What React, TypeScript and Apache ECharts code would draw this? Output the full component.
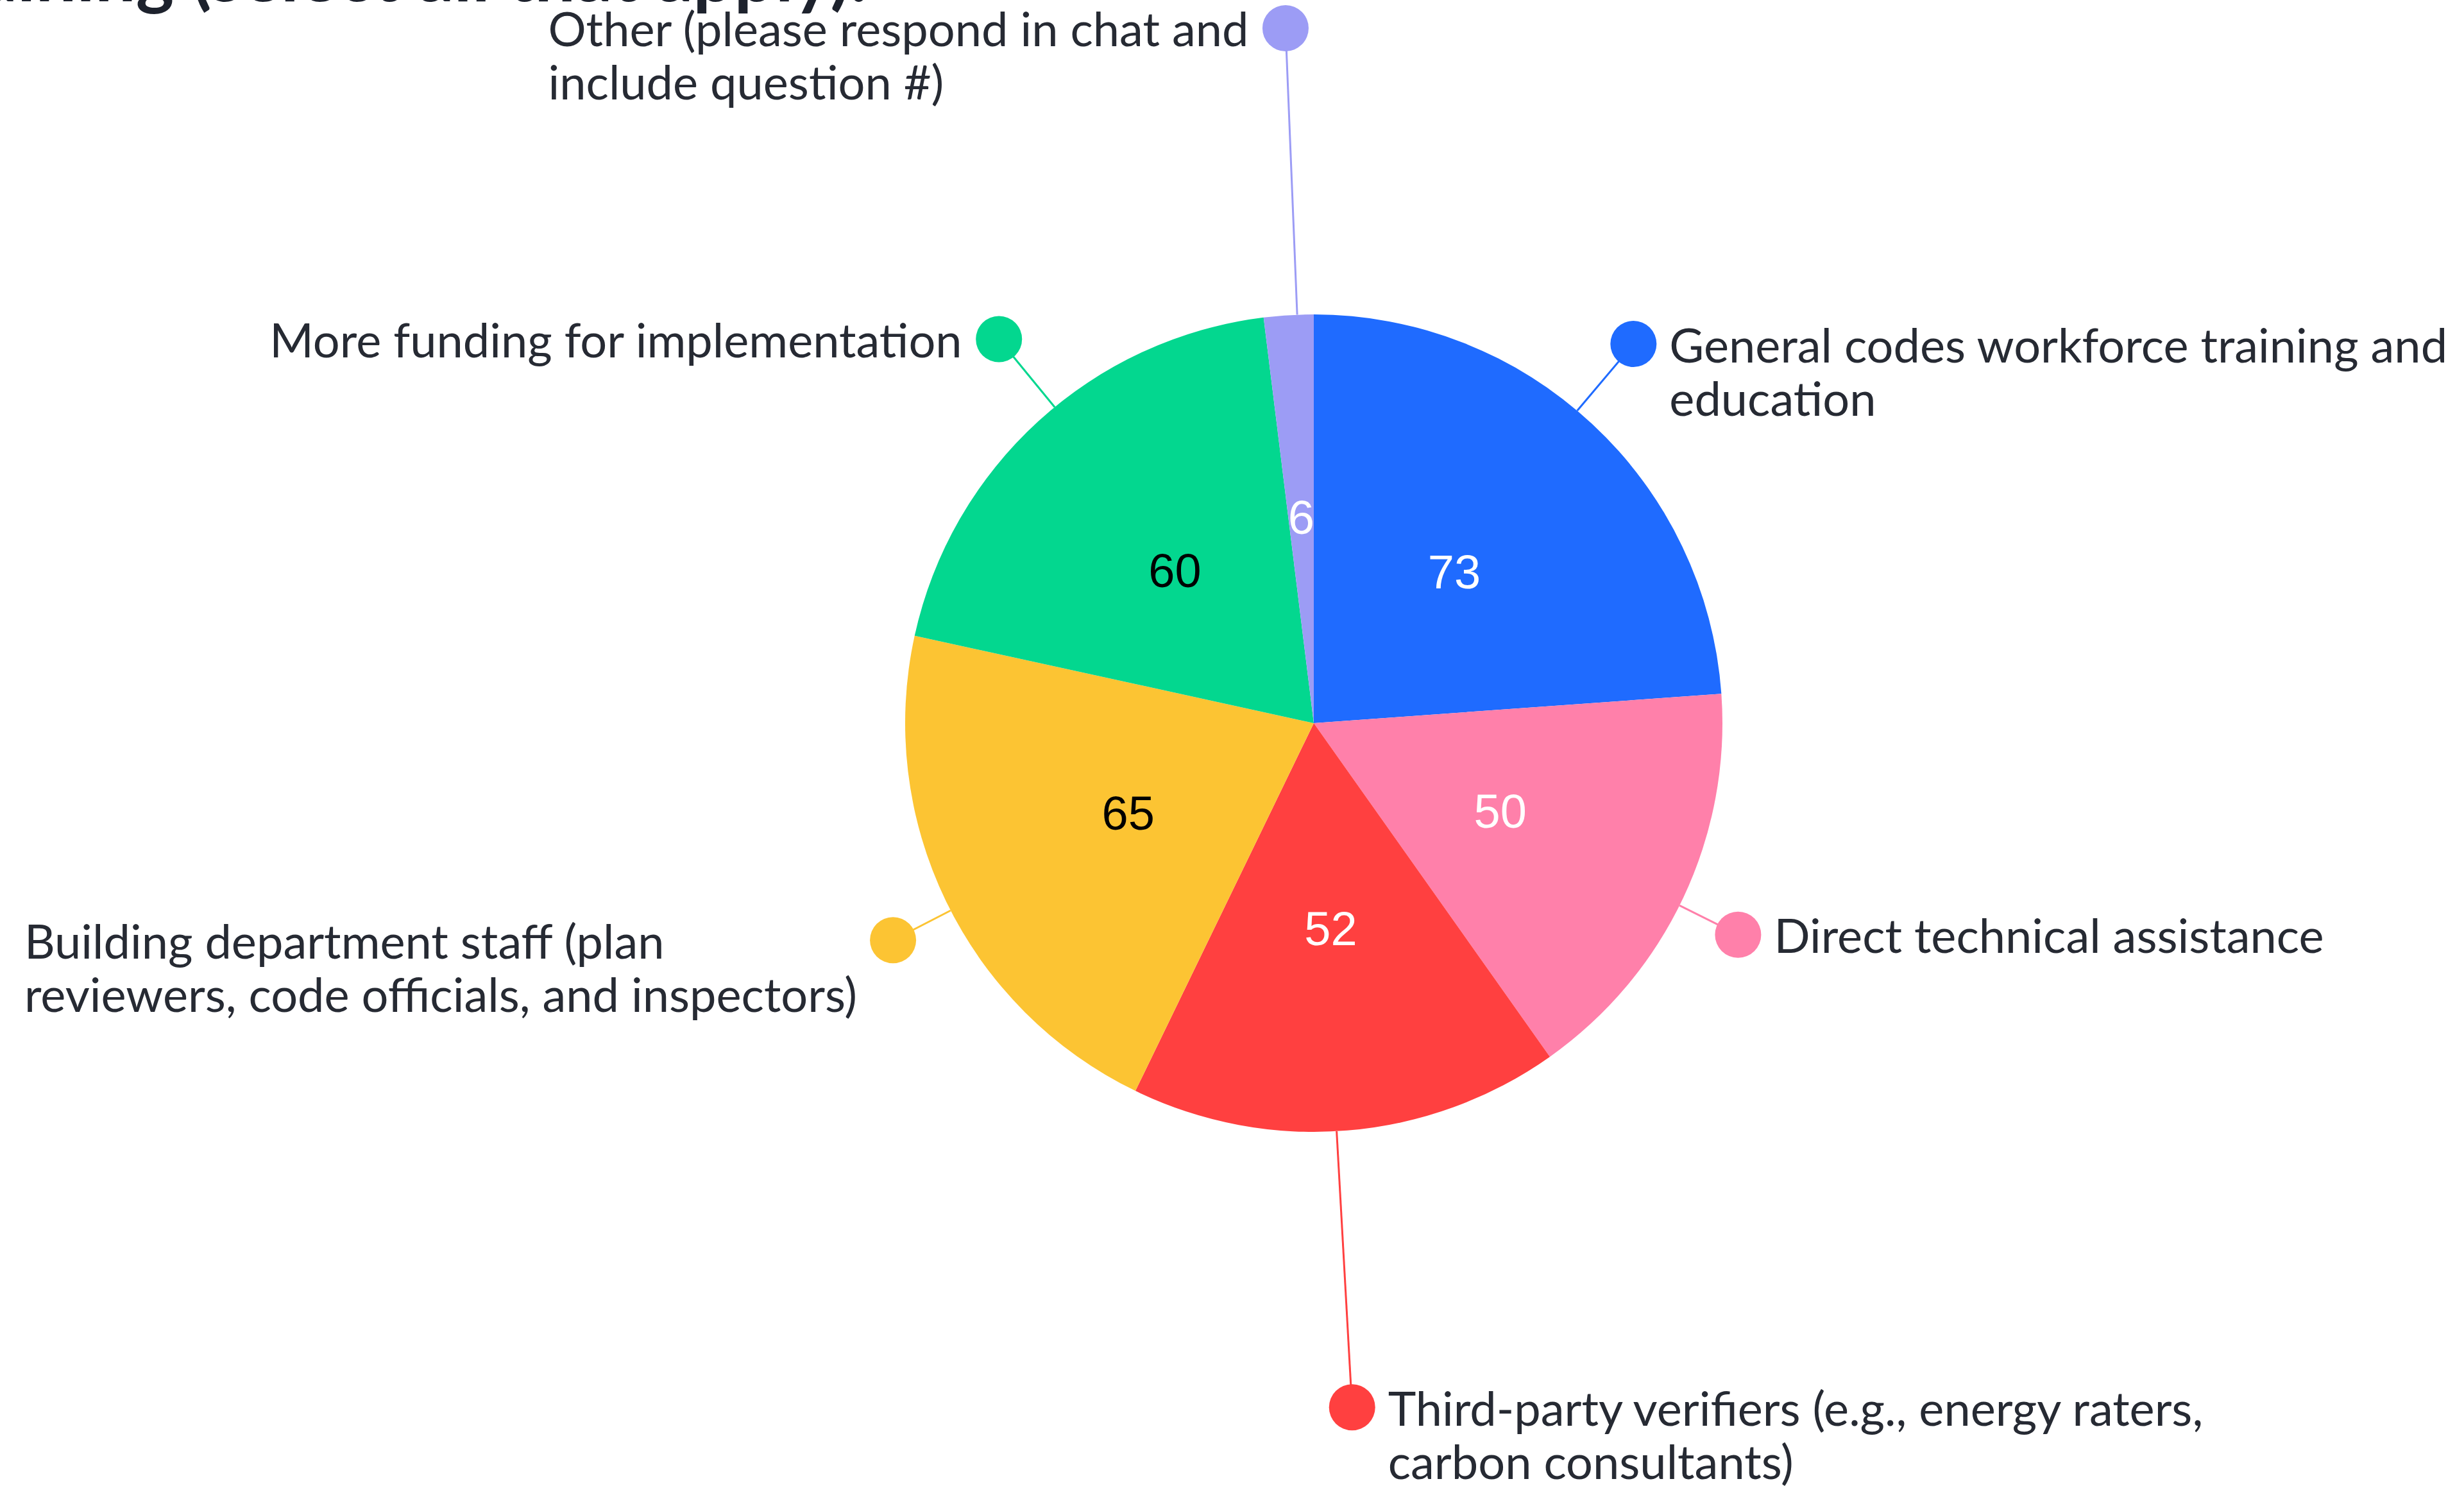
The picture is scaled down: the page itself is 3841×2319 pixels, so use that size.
import React, { useEffect, useRef } from 'react';
import * as echarts from 'echarts';

// ---- data ----
const titleText = 'training (select all that apply).';
const categories = [
  'General codes workforce training and education',
  'Direct technical assistance',
  'Third-party verifiers (e.g., energy raters, carbon consultants)',
  'Building department staff (plan reviewers, code officials, and inspectors)',
  'More funding for implementation',
  'Other (please respond in chat and include question #)',
];
const categoryLines = [
  ['General codes workforce training and', 'education'],
  ['Direct technical assistance'],
  ['Third-party verifiers (e.g., energy raters,', 'carbon consultants)'],
  ['Building department staff (plan', 'reviewers, code officials, and inspectors)'],
  ['More funding for implementation'],
  ['Other (please respond in chat and', 'include question #)'],
];
const values = [73, 50, 52, 65, 60, 6];

// ---- styles ----
const sliceColors = ['#1F6BFF', '#FF80AA', '#FF4040', '#FCC433', '#03D78F', '#9C9CF5'];
const valueColors = ['#ffffff', '#ffffff', '#ffffff', '#000000', '#000000', '#ffffff'];
const leaderLengths = [136, 102, 431, 101, 137, 447];
const leaderAngleOffsets = [2.8, -1.2, -1.5, 1.4, -3.0, -1.2];
const labelSides = ['right', 'right', 'right', 'left', 'left', 'left'];

const W = 3841;
const H = 2319;
const CENTER = [2048, 1127];
const RADIUS = 637;
const TEXT_COLOR = '#262a33';
const FONT = 'Lato, "Noto Sans", sans-serif';
const FS = 74;
const LH = 83;
const DOT = 72;
const GAP = 20;

function buildLabel(i: number) {
  const lines = categoryLines[i];
  const side = labelSides[i];
  const parts: string[] = [];
  lines.forEach((l, k) => {
    if (side === 'right') {
      parts.push(k === 0 ? `{dot|}{name|${l}}` : `{sp|}{name|${l}}`);
    } else {
      parts.push(k === 0 ? `{name|${l}}{dot|}` : `{name|${l}}{sp|}`);
    }
  });
  const blanks: string[] = [];
  for (let k = 1; k < lines.length; k++) blanks.push('{blank|}');
  const text = blanks.concat(parts).join('\n');
  const tokAlign = side === 'right' ? 'left' : 'right';
  return {
    formatter: () => text,
    rich: {
      blank: { width: 1, height: LH, lineHeight: LH },
      dot: {
        width: DOT,
        height: DOT,
        borderRadius: DOT / 2,
        backgroundColor: sliceColors[i],
        align: tokAlign,
      },
      sp: { width: DOT, height: 1, align: tokAlign },
      name: {
        fontSize: FS,
        fontFamily: FONT,
        color: TEXT_COLOR,
        lineHeight: LH,
        align: 'left',
        padding: side === 'right' ? [0, 0, 0, GAP] : [0, GAP, 0, 0],
      },
    },
  };
}

function rotatePoint(p: number[], deg: number) {
  const th = (deg * Math.PI) / 180;
  const dx = p[0] - CENTER[0];
  const dy = p[1] - CENTER[1];
  return [
    CENTER[0] + dx * Math.cos(th) + dy * Math.sin(th),
    CENTER[1] - dx * Math.sin(th) + dy * Math.cos(th),
  ];
}

export default function App() {
  const ref = useRef<HTMLDivElement>(null);
  useEffect(() => {
    if (!ref.current) return;
    const chart = echarts.init(ref.current, null, { renderer: 'svg' });
    chart.setOption({
      animation: false,
      backgroundColor: '#ffffff',
      graphic: [
        {
          type: 'text',
          x: 1352,
          y: -42,
          style: {
            text: titleText,
            align: 'right',
            verticalAlign: 'middle',
            fontSize: 113,
            fontWeight: 'bold',
            fontFamily: FONT,
            fill: '#1d222d',
          },
        },
      ],
      series: [
        {
          type: 'pie',
          radius: RADIUS,
          center: CENTER,
          startAngle: 90,
          clockwise: true,
          avoidLabelOverlap: false,
          silent: true,
          z: 1,
          emphasis: { disabled: true },
          label: {
            show: true,
            position: 'outside',
            distanceToLabelLine: -DOT / 2,
          },
          labelLine: {
            show: true,
            length2: 0,
            smooth: false,
            lineStyle: { width: 3 },
          },
          labelLayout: (params: any) => {
            const i = params.dataIndex;
            const pts = params.labelLinePoints;
            if (!pts || !pts.length) return {};
            const np = pts.map((p: number[]) => rotatePoint(p, leaderAngleOffsets[i]));
            const end = np[np.length - 1];
            return {
              x: end[0] + (labelSides[i] === 'right' ? -DOT / 2 : DOT / 2),
              y: end[1],
              labelLinePoints: np,
            };
          },
          data: values.map((v, i) => ({
            value: v,
            name: categories[i],
            itemStyle: { color: sliceColors[i] },
            label: buildLabel(i),
            labelLine: { length: leaderLengths[i], length2: 0 },
          })),
        },
        {
          type: 'pie',
          radius: RADIUS,
          center: CENTER,
          startAngle: 90,
          clockwise: true,
          silent: true,
          z: 2,
          emphasis: { disabled: true },
          label: {
            show: true,
            position: 'inside',
            formatter: '{c}',
            fontSize: 74,
            fontFamily: '"Liberation Sans", Arial, sans-serif',
          },
          labelLine: { show: false },
          data: values.map((v, i) => ({
            value: v,
            name: categories[i],
            itemStyle: { color: 'rgba(0,0,0,0)' },
            label: { color: valueColors[i] },
          })),
        },
      ],
    });
    return () => chart.dispose();
  }, []);
  return (
    <div
      ref={ref}
      style={{ position: 'absolute', left: 0, top: 0, width: W, height: H, background: '#fff' }}
    />
  );
}
